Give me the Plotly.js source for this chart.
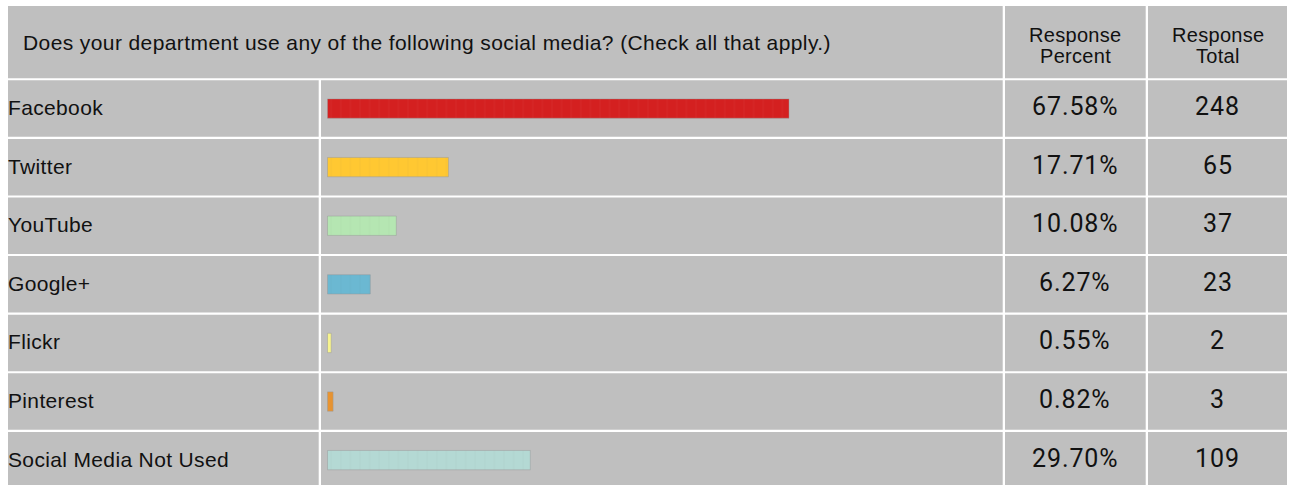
<!DOCTYPE html>
<html>
<head>
<meta charset="utf-8">
<script src="https://cdn.plot.ly/plotly-3.0.1.min.js"></script>
<style>
  html, body { margin: 0; padding: 0; background: #ffffff; }
  #chart { width: 1289px; height: 485px; }
</style>
</head>
<body>
<div id="chart"></div>
<script>
// ---- data ----
const categories = ['Facebook', 'Twitter', 'YouTube', 'Google+', 'Flickr', 'Pinterest', 'Social Media Not Used'];
const percents = [67.58, 17.71, 10.08, 6.27, 0.55, 0.82, 29.70];
const totals = [248, 65, 37, 23, 2, 3, 109];
const barColors = ['#d42020', '#ffc832', '#b5e6b2', '#6bb8d2', '#f7f48e', '#e99430', '#b4d9d4'];
const question = 'Does your department use any of the following social media? (Check all that apply.)';
const headerPercent = ['Response', 'Percent'];
const headerTotal = ['Response', 'Total'];

// ---- page geometry (pixels) ----
const W = 1289, H = 485;
const px = v => v / W;
const py = v => 1 - v / H;
const tableL = 8, tableR = 1287, headTop = 6, headBot = 78.3;
const rowTop0 = 80.3, pitch = 58.6, rowH = 56.5;
const colLabelR = 318.7, colBarL = 321, colBarR = 1002.7, colPctL = 1005, colPctR = 1145.7, colTotL = 1148;
const barStartPx = 327.5, barPxPerUnit = 6.829;
const gray = '#bfbfbf';
const textFont = 'Liberation Sans, Arial, sans-serif';
const numFont = 'Roboto, Noto Sans, sans-serif';
const spaced = (s, ls) => '<span style="letter-spacing:' + ls + 'px">' + s + '</span>';

// axis ranges so that category i sits at row center
const rowCenter0 = rowTop0 + rowH / 2;
const yTopVal = -rowCenter0 / pitch;
const yBotVal = (H - rowCenter0) / pitch;
const xMin = -barStartPx / barPxPerUnit;
const xMax = (W - barStartPx) / barPxPerUnit;

// ---- cell backgrounds ----
const shapes = [];
function cell(x0, x1, y0, y1) {
  shapes.push({type: 'rect', xref: 'paper', yref: 'paper', layer: 'below',
    x0: px(x0), x1: px(x1), y0: py(y1), y1: py(y0),
    fillcolor: gray, line: {width: 0}});
}
cell(tableL, colBarR, headTop, headBot);
cell(colPctL, colPctR, headTop, headBot);
cell(colTotL, tableR, headTop, headBot);
categories.forEach((c, i) => {
  const t = rowTop0 + i * pitch, b = t + rowH;
  cell(tableL, colLabelR, t, b);
  cell(colBarL, colBarR, t, b);
  cell(colPctL, colPctR, t, b);
  cell(colTotL, tableR, t, b);
});

// ---- text ----
const annotations = [];
annotations.push({xref: 'paper', yref: 'paper', x: px(21), y: py(42.5), xanchor: 'left', yanchor: 'middle',
  text: spaced(question, 0.4), showarrow: false, font: {family: textFont, size: 21, color: '#111'}});
[[headerPercent, (colPctL + colPctR) / 2], [headerTotal, (colTotL + tableR) / 2]].forEach(([lines, cx]) => {
  lines.forEach((s, k) => {
    annotations.push({xref: 'paper', yref: 'paper', x: px(cx), y: py(k === 0 ? 35.3 : 56.0),
      xanchor: 'center', yanchor: 'middle', text: spaced(s, 0.3), showarrow: false, borderpad: 0,
      font: {family: textFont, size: 20, color: '#111'}});
  });
});
categories.forEach((c, i) => {
  annotations.push({xref: 'paper', yref: 'y', x: px(tableL - 2), y: c, xanchor: 'left', yanchor: 'middle', yshift: 1,
    text: spaced(c, 0.35), showarrow: false, font: {family: textFont, size: 21, color: '#111'}});
  annotations.push({xref: 'paper', yref: 'y', x: px((colPctL + colPctR) / 2), y: c, xanchor: 'center', yanchor: 'middle', yshift: 2,
    text: spaced(percents[i].toFixed(2) + '%', 0.9), showarrow: false, font: {family: numFont, size: 25, color: '#111'}});
  annotations.push({xref: 'paper', yref: 'y', x: px((colTotL + tableR) / 2), y: c, xanchor: 'center', yanchor: 'middle', yshift: 2,
    text: spaced(String(totals[i]), 0.9), showarrow: false, font: {family: numFont, size: 25, color: '#111'}});
});

// ---- bars ----
const trace = {
  type: 'bar', orientation: 'h',
  x: percents, y: categories,
  width: 0.33,
  marker: {color: barColors,
    line: {color: 'rgba(150,150,150,0.45)', width: 1},
    pattern: {shape: '|', size: 9.6, solidity: 0.08, fgcolor: '#000000', fgopacity: 0.05, fillmode: 'overlay'}},
  hoverinfo: 'skip'
};

const layout = {
  width: W, height: H,
  margin: {l: 0, r: 0, t: 0, b: 0, pad: 0},
  paper_bgcolor: '#ffffff', plot_bgcolor: 'rgba(0,0,0,0)',
  showlegend: false,
  xaxis: {domain: [0, 1], range: [xMin, xMax], visible: false, fixedrange: true},
  yaxis: {domain: [0, 1], type: 'category', categoryarray: categories, range: [yBotVal, yTopVal],
    visible: false, fixedrange: true},
  shapes: shapes,
  annotations: annotations
};

Plotly.newPlot('chart', [trace], layout, {displayModeBar: false, staticPlot: true});
</script>
</body>
</html>
